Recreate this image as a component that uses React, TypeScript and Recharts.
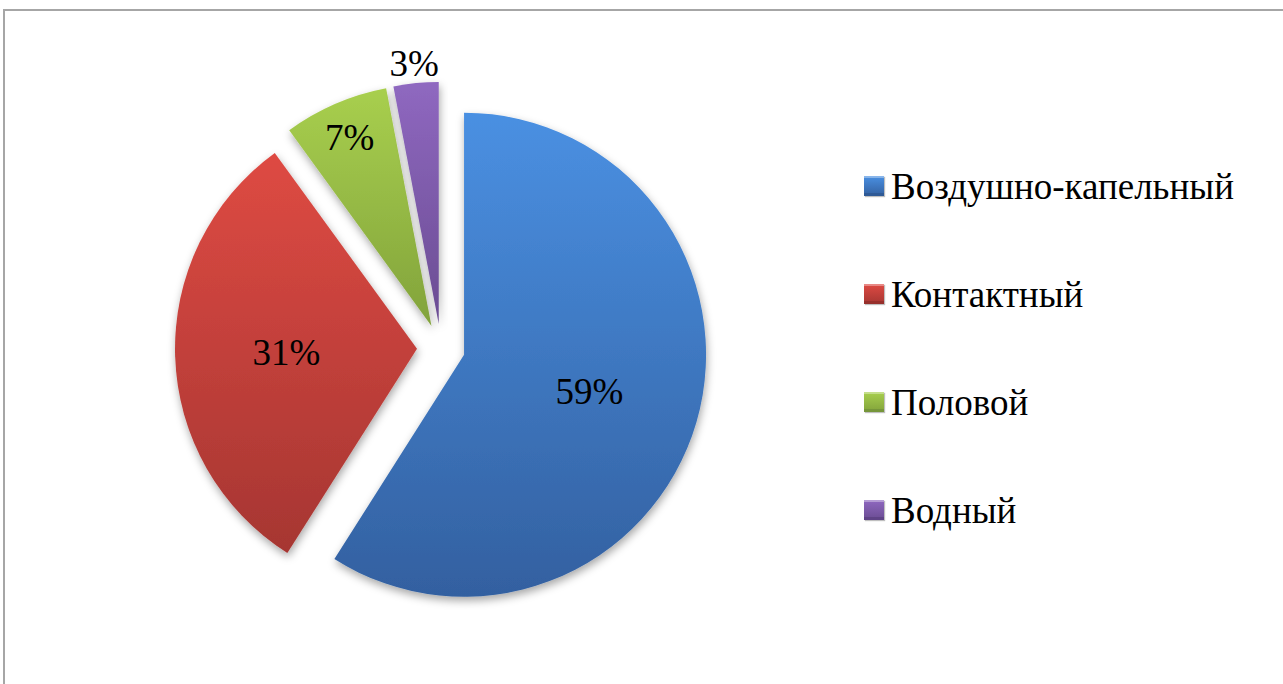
import React from 'react';
import { PieChart, Pie, Cell, Legend, Sector } from 'recharts';

const routes = ['Воздушно-капельный', 'Контактный', 'Половой', 'Водный'];
const shares = [59, 31, 7, 3];

const data = routes.map((name, i) => ({ name, value: shares[i] }));

// top / bottom colours of each slice gradient
const TOP = ['#4A90E2', '#DE4A43', '#A8CF4E', '#8F68C0'];
const BOTTOM = ['#3360A0', '#A63632', '#82A33B', '#6A4C92'];
const EDGE = ['#2F5A96', '#97302C', '#76963A', '#5F4386'];

const RAD = Math.PI / 180;
const EXPLODE = 24;
const FONT = "'Liberation Serif', 'DejaVu Serif', serif";

const ExplodedSlice = (props: any) => {
  const { cx, cy, midAngle, index } = props;
  const dx = EXPLODE * Math.cos(-midAngle * RAD);
  const dy = EXPLODE * Math.sin(-midAngle * RAD);
  return (
    <Sector
      {...props}
      cx={cx + dx}
      cy={cy + dy}
      fill={`url(#slice${index})`}
      stroke="none"
      filter="url(#shadow)"
    />
  );
};

const renderLabel = (props: any) => {
  const { cx, cy, midAngle, outerRadius, percent } = props;
  const k = percent > 0.2 ? 0.54 : percent > 0.05 ? 0.85 : 1.08;
  const r = EXPLODE + outerRadius * k;
  const x = cx + r * Math.cos(-midAngle * RAD);
  const y = cy + r * Math.sin(-midAngle * RAD);
  return (
    <text x={x} y={y} textAnchor="middle" dominantBaseline="central" fontFamily="Liberation Serif" fontSize={37} fill="#000">
      {Math.round(percent * 100)}%
    </text>
  );
};

const renderLegend = (props: any) => {
  const items = [...(props.payload || [])].sort(
    (a: any, b: any) => routes.indexOf(a.value) - routes.indexOf(b.value)
  );
  return (
    <div style={{ fontFamily: FONT, fontSize: 37, color: '#000' }}>
      {items.map((entry: any) => {
        const i = routes.indexOf(entry.value);
        return (
          <div key={`leg-${i}`} style={{ display: 'flex', alignItems: 'center', height: 108 }}>
            <span
              style={{
                display: 'inline-block',
                width: 20,
                height: 20,
                marginRight: 7,
                flexShrink: 0,
                background: `linear-gradient(180deg, ${TOP[i]}, ${BOTTOM[i]})`,
                boxShadow: `inset 0 -3px 0 ${EDGE[i]}, inset 0 2px 0 rgba(255,255,255,0.35), 1px 1px 1px rgba(0,0,0,0.25)`,
              }}
            />
            <span style={{ lineHeight: '37px', whiteSpace: 'nowrap' }}>{entry.value}</span>
          </div>
        );
      })}
    </div>
  );
};

export default function App() {
  return (
    <div style={{ position: 'absolute', left: 0, top: 0, width: 1283, height: 684, background: '#fff', overflow: 'hidden', fontFamily: FONT }}>
      <div style={{ position: 'absolute', left: 3, top: 9, width: 1300, height: 700, borderTop: '2px solid #a6a6a6', borderLeft: '2px solid #a6a6a6' }} />
      <div style={{ position: 'absolute', left: 0, top: 0 }}>
        <PieChart width={1283} height={684} margin={{ top: 0, right: 0, bottom: 0, left: 0 }}>
          <defs>
            {TOP.map((c, i) => (
              <linearGradient key={`g${i}`} id={`slice${i}`} x1="0" y1="0" x2="0" y2="1">
                <stop offset="0%" stopColor={c} />
                <stop offset="100%" stopColor={BOTTOM[i]} />
              </linearGradient>
            ))}
            <filter id="shadow" x="-20%" y="-20%" width="140%" height="140%">
              <feDropShadow dx="1" dy="4" stdDeviation="4" floodColor="#000" floodOpacity="0.35" />
            </filter>
          </defs>
          <Pie
            data={data}
            dataKey="value"
            nameKey="name"
            cx={441}
            cy={348}
            outerRadius={242}
            startAngle={90}
            endAngle={-270}
            stroke="none"
            shape={ExplodedSlice}
            label={renderLabel}
            labelLine={false}
            isAnimationActive={false}
          >
            {data.map((d, i) => (
              <Cell key={`cell-${i}`} fill={TOP[i]} />
            ))}
          </Pie>
          <Legend
            layout="vertical"
            align="right"
            verticalAlign="top"
            content={renderLegend}
            wrapperStyle={{ left: 864, top: 132, width: 410 }}
          />
        </PieChart>
      </div>
    </div>
  );
}
